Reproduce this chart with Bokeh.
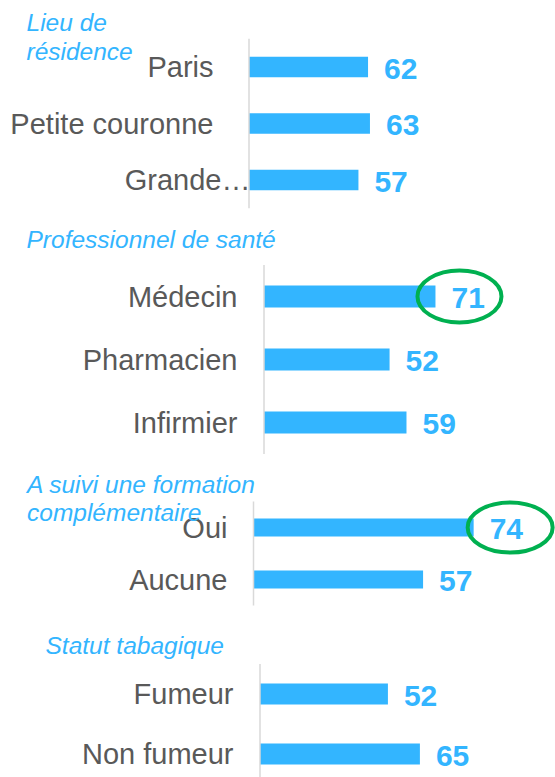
from bokeh.plotting import figure
from bokeh.models import Range1d, ColumnDataSource
from bokeh.layouts import column
from bokeh.core.properties import value
from bokeh.embed import file_html
from bokeh.resources import INLINE

# ---------------- data ----------------
lieu_labels = ["Paris", "Petite couronne", "Grande…"]
lieu_values = [62, 63, 57]

pro_labels = ["Médecin", "Pharmacien", "Infirmier"]
pro_values = [71, 52, 59]

form_labels = ["Oui", "Aucune"]
form_values = [74, 57]

tabac_labels = ["Fumeur", "Non fumeur"]
tabac_values = [52, 65]

titles = [
    ["Lieu de", "résidence"],
    ["Professionnel de santé"],
    ["A suivi une formation", "complémentaire"],
    ["Statut tabagique"],
]
highlights = [None, "Médecin", "Oui", None]

# ---------------- style ----------------
BLUE = "#33B5FF"
GRAY_TXT = "#595959"
AXIS = "#D9D9D9"
GREEN = "#00B050"
FONT = value("Liberation Sans")
PAGE = 0
W = 555
TITLE_SHIFT = -8


def panel(labels, values, title, hl, *, top, bottom, x0, scale, c1, pitch,
          bar_px, label_dx, title_x, title_base, ell=None):
    n = len(labels)
    h = bottom - top
    xr = Range1d((PAGE - x0) / scale, (PAGE + W - x0) / scale)
    yr = Range1d((bottom - c1) / pitch, (top - c1) / pitch)
    p = figure(width=W, height=h, x_range=xr, y_range=yr,
               output_backend="svg", toolbar_location=None,
               x_axis_location=None, y_axis_location=None,
               min_border=0, outline_line_color=None)
    p.grid.visible = False
    p.background_fill_color = "white"
    p.border_fill_color = "white"

    src = ColumnDataSource(dict(
        y=list(range(n)), v=values, lab=labels,
        txt=[str(v) for v in values], dx=label_dx,
    ))

    p.hbar(y="y", left=0, right="v", height=bar_px / pitch, source=src,
           fill_color=BLUE, line_color=None)
    p.segment(x0=[0], y0=[-0.5], x1=[0], y1=[n - 0.5],
              line_color=AXIS, line_width=1.5)

    p.text(x="v", y="y", text="txt", source=src, x_offset=16, y_offset=1.5,
           text_align="left", text_baseline="middle", text_font=FONT,
           text_font_style="bold", text_font_size="30px", text_color=BLUE)
    p.text(x=0, y="y", text="lab", source=src, x_offset="dx", y_offset=0,
           text_align="right", text_baseline="middle", text_font=FONT,
           text_font_size="29px", text_color=GRAY_TXT)

    for i, line in enumerate(title):
        p.text(x=[(title_x - x0) / scale],
               y=[(title_base + TITLE_SHIFT + i * 28.5 - c1) / pitch],
               text=[line],
               text_align="left", text_baseline="alphabetic", text_font=FONT,
               text_font_style="italic", text_font_size="24.5px",
               text_color=BLUE)

    if hl is not None and ell is not None:
        k = labels.index(hl)
        dx_px, w_px, h_px = ell
        p.ellipse(x=[values[k] + dx_px / scale], y=[k], width=w_px,
                  height=h_px, width_units="screen", height_units="screen",
                  fill_color=None, line_color=GREEN, line_width=4)
    return p


p1 = panel(lieu_labels, lieu_values, titles[0], highlights[0],
           top=0, bottom=215, x0=248.5, scale=1.92, c1=66.5, pitch=56.5,
           bar_px=20.5, label_dx=[-35.5, -35.5, 1.5],
           title_x=26, title_base=30)
p2 = panel(pro_labels, pro_values, titles[1], highlights[1],
           top=215, bottom=462, x0=263.5, scale=2.415, c1=296, pitch=63,
           bar_px=22, label_dx=[-26.5] * 3,
           title_x=26, title_base=247, ell=(24, 84, 52))
p3 = panel(form_labels, form_values, titles[2], highlights[2],
           top=462, bottom=620, x0=253, scale=2.975, c1=527, pitch=52,
           bar_px=18, label_dx=[-26] * 2,
           title_x=26.5, title_base=491.5, ell=(36.5, 85, 50))
p4 = panel(tabac_labels, tabac_values, titles[3], highlights[3],
           top=620, bottom=777, x0=259.5, scale=2.46, c1=693.5, pitch=60,
           bar_px=21, label_dx=[-26.5] * 2,
           title_x=45, title_base=653)

layout = column(p1, p2, p3, p4, spacing=0)
open("out.html", "w").write(file_html(layout, INLINE))
